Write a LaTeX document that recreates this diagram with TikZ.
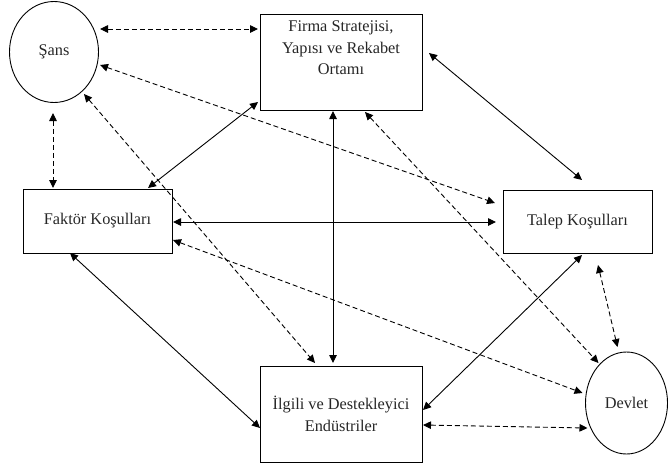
\documentclass[tikz,border=0pt]{standalone}
\usepackage{fontspec}
\setmainfont{Liberation Serif}
\usetikzlibrary{arrows.meta,calc,shapes.geometric}
\begin{document}
\begin{tikzpicture}[x=1pt,y=-1pt,
  every node/.style={font=\fontsize{16.3}{21.5}\selectfont, text=black!85},
  boxnode/.style={draw, line width=0.9pt, inner sep=0pt, align=center},
  ovalnode/.style={draw, line width=0.9pt, ellipse, inner sep=0pt},
  con/.style={line width=0.9pt, {Triangle[length=8pt,width=7.5pt]}-{Triangle[length=8pt,width=7.5pt]}},
  dcon/.style={con, dash pattern=on 5pt off 3pt}]
\useasboundingbox (0,0) rectangle (668,469);
\node[ovalnode, minimum width=89pt, minimum height=101pt] (sans) at (54,52) {Şans};
\node[boxnode, minimum width=162pt, minimum height=96pt] (firma) at (341,62) {Firma Stratejisi,\\Yapısı ve Rekabet\\Ortamı\\ \strut};
\node[boxnode, minimum width=149pt, minimum height=64pt] (fak) at (97.5,221) {Faktör Koşulları};
\node[boxnode, minimum width=149pt, minimum height=63pt] (talep) at (577.5,221.5) {Talep Koşulları};
\node[boxnode, minimum width=162pt, minimum height=96pt] (ilgili) at (341,414) {İlgili ve Destekleyici\\Endüstriler};
\node[ovalnode, minimum width=82pt, minimum height=102pt] (devlet) at (626.5,403) {Devlet};
% dashed links
\draw[dcon] ($(sans)+(46,-23)$) -- ($(firma)+(-83,-33)$);
\draw[dcon] ($(sans)+(46,13)$) -- ($(talep)+(-82.5,-18.5)$);
\draw[dcon] ($(sans)+(-1,61)$) -- ($(fak)+(-44.5,-33)$);
\draw[dcon] ($(sans)+(30,42)$) -- ($(ilgili)+(-26,-51)$);
\draw[dcon] ($(firma)+(24,50)$) -- ($(devlet)+(-28,-40)$);
\draw[dcon] ($(fak)+(75.5,19)$) -- ($(devlet)+(-44,-10)$);
\draw[dcon] ($(talep)+(20.5,43.5)$) -- ($(devlet)+(-9,-56)$);
\draw[dcon] ($(ilgili)+(82,11)$) -- ($(devlet)+(-39,25)$);
% solid links
\draw[con] ($(firma)+(-83,40)$) -- ($(fak)+(50.5,-33)$);
\draw[con] ($(firma)+(88,-9)$) -- ($(talep)+(4.5,-41.5)$);
\draw[con] ($(firma)+(-8,49)$) -- ($(ilgili)+(-8,-51)$);
\draw[con] ($(fak)+(75.5,1)$) -- ($(talep)+(-81.5,0.5)$);
\draw[con] ($(fak)+(-27.5,32)$) -- ($(ilgili)+(-81,14)$);
\draw[con] ($(talep)+(4.5,33.5)$) -- ($(ilgili)+(82,-4)$);
\end{tikzpicture}
\end{document}
